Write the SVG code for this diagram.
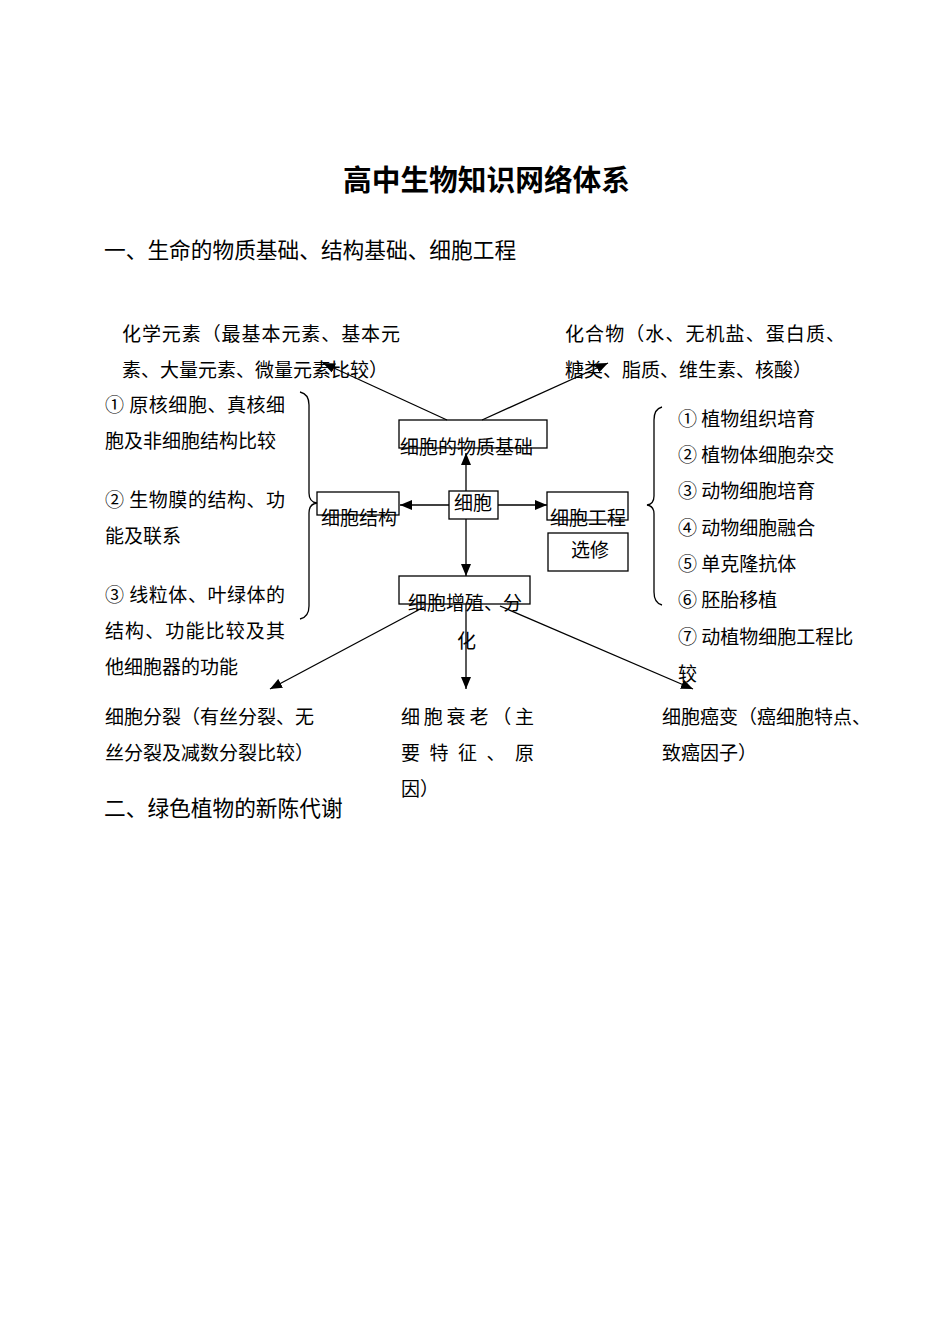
<svg xmlns="http://www.w3.org/2000/svg" width="950" height="1342" viewBox="0 0 950 1342">
<style>
text{font-family:"Noto Sans CJK SC","Liberation Sans",sans-serif;font-size:19px;fill:#000}
.title{font-size:29px;font-weight:bold}
.h{font-size:21.7px}
.box{fill:#fff;stroke:#000;stroke-width:1.3}
.ln{fill:none;stroke:#000;stroke-width:1.3}
.br{fill:none;stroke:#000;stroke-width:1.3}
</style>
<defs>
<marker id="arr" markerUnits="userSpaceOnUse" markerWidth="12" markerHeight="10" refX="12" refY="5" orient="auto">
<path d="M0,0 L12,5 L0,10 z" fill="#000"/>
</marker>
</defs>
<rect width="950" height="1342" fill="#fff"/>

<g id="title"><text class="title" x="343" y="191" textLength="287" lengthAdjust="spacingAndGlyphs">高中生物知识网络体系</text></g>
<g id="heading1"><text class="h" x="104" y="258">一、生命的物质基础、结构基础、细胞工程</text></g>

<g id="chem-elements">
<text x="122" y="341" textLength="278" lengthAdjust="spacing">化学元素（最基本元素、基本元</text>
<text x="122" y="377">素、大量元素、微量元素比较）</text>
</g>
<g id="compounds">
<text x="565" y="341" textLength="280" lengthAdjust="spacing">化合物（水、无机盐、蛋白质、</text>
<text x="565" y="377">糖类、脂质、维生素、核酸）</text>
</g>

<g id="boxes">
<g id="node-material"><rect class="box" x="399" y="420" width="148" height="28"/></g>
<g id="node-cell"><rect class="box" x="449" y="491" width="49" height="28"/></g>
<g id="node-structure"><rect class="box" x="317" y="492" width="82" height="23"/></g>
<g id="node-engineering"><rect class="box" x="547" y="492" width="81" height="28"/></g>
<g id="node-elective"><rect class="box" x="548" y="533" width="80" height="38"/></g>
<g id="node-proliferation"><rect class="box" x="399" y="576" width="131" height="28"/></g>
</g>

<g id="connectors">
<line class="ln" x1="447" y1="420" x2="323" y2="363" marker-end="url(#arr)"/>
<line class="ln" x1="482" y1="420" x2="608" y2="363" marker-end="url(#arr)"/>
<line class="ln" x1="466" y1="491" x2="466" y2="453" marker-end="url(#arr)"/>
<line class="ln" x1="449" y1="505" x2="400" y2="505" marker-end="url(#arr)"/>
<line class="ln" x1="498" y1="505" x2="547" y2="505" marker-end="url(#arr)"/>
<line class="ln" x1="466" y1="519" x2="466" y2="576" marker-end="url(#arr)"/>
<line class="ln" x1="466" y1="604" x2="466" y2="689" marker-end="url(#arr)"/>
<line class="ln" x1="424" y1="607" x2="270" y2="689" marker-end="url(#arr)"/>
<line class="ln" x1="500" y1="606" x2="693" y2="689" marker-end="url(#arr)"/>
</g>

<g id="node-labels">
<text x="400" y="454">细胞的物质基础</text>
<text x="454" y="510">细胞</text>
<text x="321" y="525">细胞结构</text>
<text x="550" y="525">细胞工程</text>
<text x="571" y="557">选修</text>
<text x="408" y="610">细胞增殖、分</text>
<text x="457" y="648">化</text>
</g>

<g id="left-brace"><path class="br" d="M300,392 Q309,394 309,405 L309,493 Q309,502 317,503 Q309,504 309,513 L309,606 Q309,617 300,619"/></g>
<g id="structure-list">
<text x="105" y="412" textLength="180" lengthAdjust="spacing">① 原核细胞、真核细</text>
<text x="105" y="448">胞及非细胞结构比较</text>
<text x="105" y="507" textLength="180" lengthAdjust="spacing">② 生物膜的结构、功</text>
<text x="105" y="543">能及联系</text>
<text x="105" y="602" textLength="180" lengthAdjust="spacing">③ 线粒体、叶绿体的</text>
<text x="105" y="638" textLength="180" lengthAdjust="spacing">结构、功能比较及其</text>
<text x="105" y="674">他细胞器的功能</text>
</g>

<g id="right-brace"><path class="br" d="M662,407 Q654,409 654,420 L654,496 Q654,504 647,505 Q654,506 654,514 L654,592 Q654,603 662,605"/></g>
<g id="engineering-list">
<text x="678" y="426">① 植物组织培育</text>
<text x="678" y="462">② 植物体细胞杂交</text>
<text x="678" y="498">③ 动物细胞培育</text>
<text x="678" y="535">④ 动物细胞融合</text>
<text x="678" y="571">⑤ 单克隆抗体</text>
<text x="678" y="607">⑥ 胚胎移植</text>
<text x="678" y="644">⑦ 动植物细胞工程比</text>
<text x="678" y="681">较</text>
</g>

<g id="division">
<text x="105" y="724">细胞分裂（有丝分裂、无</text>
<text x="105" y="760">丝分裂及减数分裂比较）</text>
</g>
<g id="aging">
<text x="401" y="724" textLength="133" lengthAdjust="spacing">细胞衰老（主</text>
<text x="401" y="760" textLength="133" lengthAdjust="spacing">要特征、原</text>
<text x="401" y="796">因）</text>
</g>
<g id="cancer">
<text x="662" y="724">细胞癌变（癌细胞特点、</text>
<text x="662" y="760">致癌因子）</text>
</g>

<g id="heading2"><text class="h" x="104" y="816">二、绿色植物的新陈代谢</text></g>
</svg>
